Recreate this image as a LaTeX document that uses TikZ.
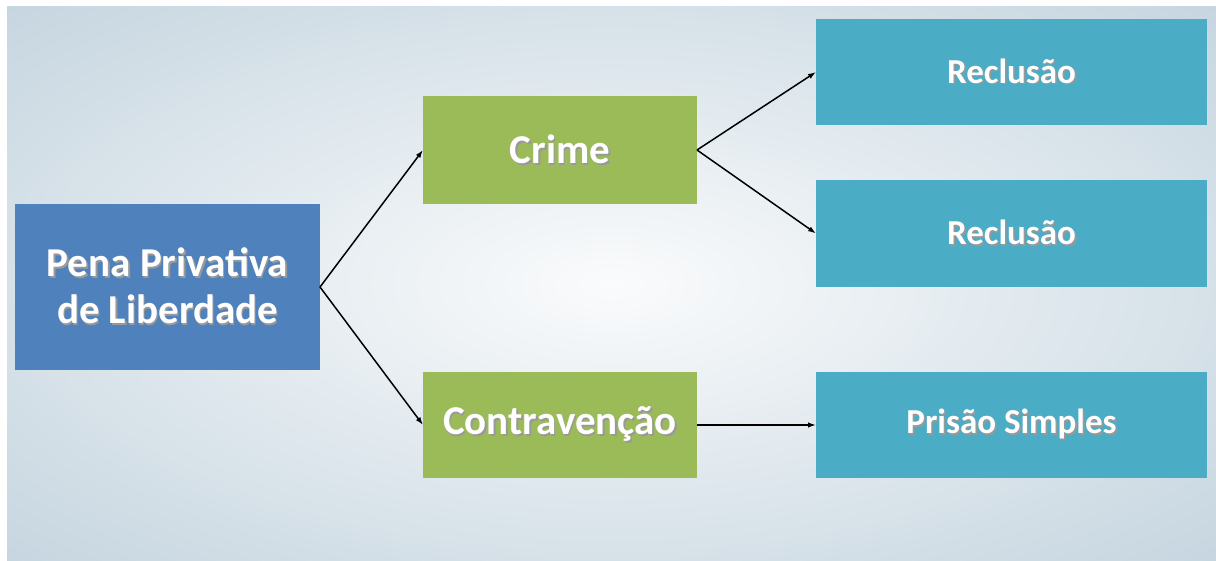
\documentclass[tikz,border=0pt]{standalone}
\usepackage{fontspec}
\setmainfont{Carlito}
\usepackage{tikz}
\usetikzlibrary{arrows.meta}

\definecolor{fundoIn}{RGB}{250,251,252}
\definecolor{fundoOut}{RGB}{158,185,202}
\definecolor{azul}{RGB}{79,129,189}
\definecolor{verde}{RGB}{155,187,89}
\definecolor{ciano}{RGB}{75,172,198}
\pgfdeclareradialshading{fundo}{\pgfpoint{0bp}{0bp}}{color(0bp)=(fundoIn); color(50bp)=(fundoOut!80!fundoIn); color(72bp)=(fundoOut)}

% Texto com sombra
\newcommand\sombra[1]{\leavevmode\rlap{\kern1.6pt\raisebox{-1.6pt}{\textcolor{black!40}{#1}}}#1}

\begin{document}
\begin{tikzpicture}[x=1pt, y=-1pt,
				caixa/.style={inner sep=0pt, outer sep=0pt, text=white, align=center},
				grande/.style={font=\fontsize{41}{47}\selectfont\bfseries},
				pequeno/.style={font=\fontsize{35}{40}\selectfont\bfseries},
				seta/.style={-{Latex[length=8pt,width=5.5pt]}, line width=1.5pt, black}]
				% Fundo
				\useasboundingbox (0,0) rectangle (1216,561);
				\fill[white] (0,0) rectangle (1216,561);
				\shade[shading=fundo] (7,7) rectangle (1216,561);
				% Caixas
				\node[caixa, grande, fill=azul, minimum width=305pt, minimum height=166pt] (pena) at (167.5,287) {\sombra{Pena Privativa}\\\sombra{de Liberdade}};
				\node[caixa, grande, fill=verde, minimum width=274pt, minimum height=108pt] (crime) at (560,150) {\sombra{Crime}};
				\node[caixa, grande, fill=verde, minimum width=274pt, minimum height=106pt] (contra) at (560,425) {\sombra{Contravenção}};
				\node[caixa, pequeno, fill=ciano, minimum width=391pt, minimum height=106pt] (reclA) at (1011.5,72) {\sombra{Reclusão}};
				\node[caixa, pequeno, fill=ciano, minimum width=391pt, minimum height=107pt] (reclB) at (1011.5,233.5) {\sombra{Reclusão}};
				\node[caixa, pequeno, fill=ciano, minimum width=391pt, minimum height=106pt] (prisao) at (1011.5,425) {\sombra{Prisão Simples}};
				% Setas
				\draw[seta] (pena.east) -- (crime.west);
				\draw[seta] (pena.east) -- (contra.west);
				\draw[seta] (crime.east) -- (reclA.west);
				\draw[seta] (crime.east) -- (reclB.west);
				\draw[seta] (contra.east) -- (prisao.west);
			\end{tikzpicture}
\end{document}
